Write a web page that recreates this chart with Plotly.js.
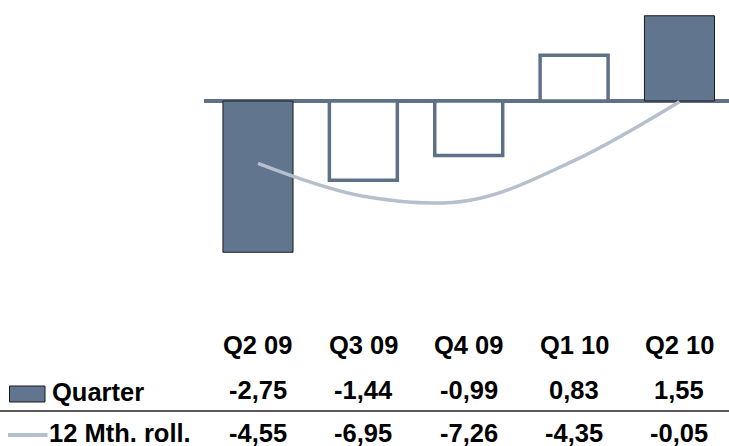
<!DOCTYPE html>
<html>
<head>
<meta charset="utf-8">
<script src="https://cdn.plot.ly/plotly-3.0.1.min.js"></script>
<style>
  html, body { margin: 0; padding: 0; background: #ffffff; }
  #chart { width: 729px; height: 446px; }
</style>
</head>
<body>
<div id="chart"></div>
<script>
// ---- data ----
const categories = ["Q2 09", "Q3 09", "Q4 09", "Q1 10", "Q2 10"];
const quarterValues = [-2.75, -1.44, -0.99, 0.83, 1.55];
const rollingValues = [-4.55, -6.95, -7.26, -4.35, -0.05];
const quarterLabels = ["-2,75", "-1,44", "-0,99", "0,83", "1,55"];
const rollingLabels = ["-4,55", "-6,95", "-7,26", "-4,35", "-0,05"];
const seriesNames = ["Quarter", "12 Mth. roll."];

// ---- style ----
const W = 729, H = 446;
const fillCol = "#61758e";
const outlineCol = "#5f7189";
const lineCol = "#b5c0cc";
const font = "'Liberation Sans', Arial, sans-serif";
const fsize = 25.5;
const py = p => 1 - p / H;   // pixel y -> paper
const px = p => p / W;       // pixel x -> paper

const filled = [true, false, false, false, true];

const barTrace = {
  type: "bar",
  x: categories,
  y: quarterValues,
  yaxis: "y",
  width: filled.map(f => f ? 0.665 : 0.645),
  marker: {
    color: filled.map(f => f ? fillCol : "#ffffff"),
    line: {
      color: filled.map(f => f ? "#1a1a1a" : outlineCol),
      width: filled.map(f => f ? 1 : 3.5)
    }
  },
  hoverinfo: "skip",
  showlegend: false
};

const lineTrace = {
  type: "scatter",
  mode: "lines",
  x: categories,
  y: rollingValues,
  yaxis: "y2",
  line: { color: lineCol, width: 3.5, shape: "spline", smoothing: 1 },
  hoverinfo: "skip",
  showlegend: false
};

const tf = { family: font, size: fsize, color: "#000000", weight: "bold" };
const annotations = [];
categories.forEach((c, i) => {
  annotations.push({ xref: "x", yref: "paper", x: c, y: py(345), text: c,
    showarrow: false, xanchor: "center", yanchor: "middle", font: tf });
  annotations.push({ xref: "x", yref: "paper", x: c, y: py(390), text: quarterLabels[i],
    showarrow: false, xanchor: "center", yanchor: "middle", font: tf });
  annotations.push({ xref: "x", yref: "paper", x: c, y: py(433), text: rollingLabels[i],
    showarrow: false, xanchor: "center", yanchor: "middle", font: tf });
});
annotations.push({ xref: "paper", yref: "paper", x: px(50), y: py(392), text: seriesNames[0],
  showarrow: false, xanchor: "left", yanchor: "middle", font: tf });
annotations.push({ xref: "paper", yref: "paper", x: px(47), y: py(433), text: seriesNames[1],
  showarrow: false, xanchor: "left", yanchor: "middle", font: tf });

const shapes = [
  // baseline
  { type: "line", xref: "paper", yref: "y", x0: px(204), x1: 1, y0: 0, y1: 0,
    line: { color: outlineCol, width: 4 }, layer: "below" },
  // legend box
  { type: "rect", xref: "paper", yref: "paper", x0: px(9.5), x1: px(45), y0: py(402), y1: py(386),
    fillcolor: fillCol, line: { color: "#1a1a1a", width: 1 } },
  // legend line
  { type: "line", xref: "paper", yref: "paper", x0: px(8), x1: px(47.5), y0: py(435), y1: py(435),
    line: { color: lineCol, width: 4 } },
  // row separator
  { type: "line", xref: "paper", yref: "paper", x0: 0, x1: 1, y0: py(411), y1: py(411),
    line: { color: "#222222", width: 1.5 } }
];

const layout = {
  width: W, height: H,
  margin: { l: 0, r: 0, t: 0, b: 0 },
  paper_bgcolor: "#ffffff",
  plot_bgcolor: "#ffffff",
  showlegend: false,
  xaxis: {
    domain: [px(205.3), 1],
    range: [-0.5, 4.47],
    showticklabels: false, showgrid: false, zeroline: false, showline: false, ticks: ""
  },
  yaxis: {
    domain: [py(300), py(10)],
    range: [-199 / 55, 91 / 55],
    showticklabels: false, showgrid: false, zeroline: false, showline: false, ticks: ""
  },
  yaxis2: {
    overlaying: "y",
    domain: [py(300), py(10)],
    range: [-199 / 13.7, 91 / 13.7],
    showticklabels: false, showgrid: false, zeroline: false, showline: false, ticks: ""
  },
  shapes: shapes,
  annotations: annotations
};

Plotly.newPlot("chart", [barTrace, lineTrace], layout, { displayModeBar: false, staticPlot: true });
</script>
</body>
</html>
